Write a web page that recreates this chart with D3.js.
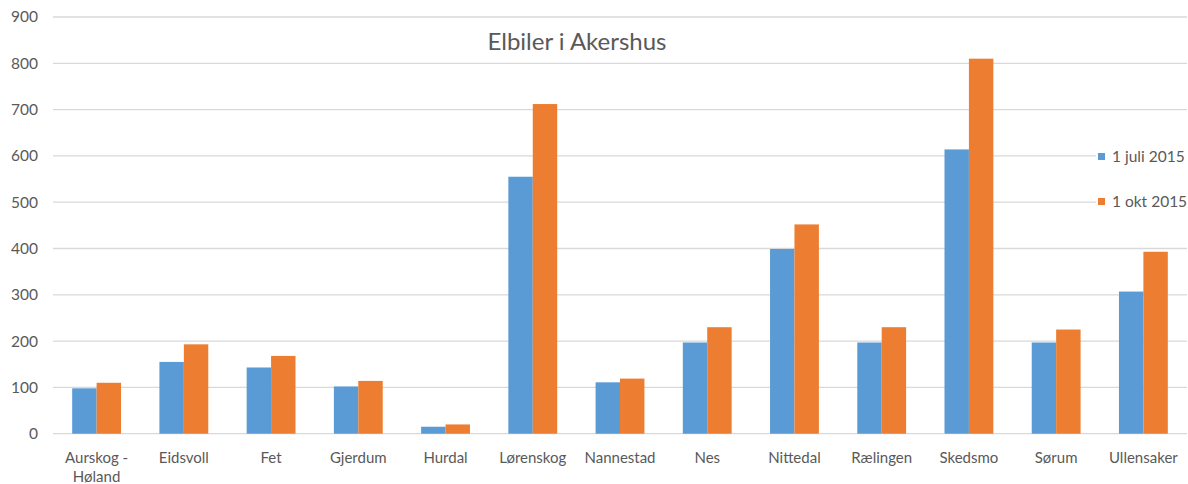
<!DOCTYPE html>
<html>
<head>
<meta charset="utf-8">
<script src="https://cdn.jsdelivr.net/npm/d3@7"></script>
<style>
	body { margin: 0; background: #fff; }
	text { font-family: Lato, "Open Sans", sans-serif; fill: #595959; }
</style>
</head>
<body>
<div id="chart"></div>
<script>
"use strict";

var kommuner = ["Aurskog - Høland", "Eidsvoll", "Fet", "Gjerdum", "Hurdal", "Lørenskog",
	"Nannestad", "Nes", "Nittedal", "Rælingen", "Skedsmo", "Sørum", "Ullensaker"];
var juli2015 = [98, 155, 143, 102, 15, 555, 111, 197, 399, 197, 614, 197, 307];
var okt2015 = [110, 193, 168, 114, 20, 712, 119, 230, 452, 230, 810, 225, 393];
var seriesNames = ["1 juli 2015", "1 okt 2015"];
var yTicks = [0, 100, 200, 300, 400, 500, 600, 700, 800, 900];

var colors = ["#5B9BD5", "#ED7D31"];

var svg = d3.select("#chart").append("svg")
	.attr("width", 1188).attr("height", 484);

var x0 = d3.scaleBand().domain(kommuner).range([53, 1187])
	.paddingInner(0.44).paddingOuter(0.22);
var x1 = d3.scaleBand().domain([0, 1]).range([0, x0.bandwidth()]);
var y = d3.scaleLinear().domain([0, 900]).range([433.7, 17]);

// gridlines
svg.append("g")
	.selectAll("line")
	.data(yTicks)
	.enter().append("line")
	.attr("x1", 53).attr("x2", 1187)
	.attr("y1", function(d) { return y(d); })
	.attr("y2", function(d) { return y(d); })
	.attr("stroke", "#d9d9d9")
	.attr("stroke-width", 1.3);

// y axis labels
var yAxis = svg.append("g")
	.attr("transform", "translate(38,0)")
	.call(d3.axisLeft(y).tickValues(yTicks).tickSize(0).tickPadding(0));
yAxis.select(".domain").remove();
yAxis.selectAll("text")
	.style("font-size", "15.5px")
	.attr("fill", "#595959")
	.style("font-family", "Lato, 'Open Sans', sans-serif");

// bars
var groups = svg.append("g").selectAll("g")
	.data(kommuner)
	.enter().append("g")
	.attr("transform", function(d) { return "translate(" + x0(d) + ",0)"; });

groups.selectAll("rect")
	.data(function(d, i) { return [juli2015[i], okt2015[i]]; })
	.enter().append("rect")
	.attr("x", function(d, j) { return x1(j); })
	.attr("width", x1.bandwidth())
	.attr("y", function(d) { return y(d); })
	.attr("height", function(d) { return y(0) - y(d); })
	.attr("fill", function(d, j) { return colors[j]; });

// x labels
var xl = svg.append("g").selectAll("text")
	.data(kommuner)
	.enter().append("text")
	.attr("x", function(d) { return x0(d) + x0.bandwidth() / 2; })
	.attr("y", 463)
	.attr("text-anchor", "middle")
	.style("font-size", "15px");

xl.each(function(d) {
	var t = d3.select(this);
	if (d.indexOf(" - ") > 0) {
		var parts = d.split(" - ");
		t.append("tspan").attr("x", t.attr("x")).text(parts[0] + " -");
		t.append("tspan").attr("x", t.attr("x")).attr("dy", 19).text(parts[1]);
	} else {
		t.text(d);
	}
});

// title
svg.append("text")
	.attr("x", 577).attr("y", 50)
	.attr("text-anchor", "middle")
	.style("font-size", "24px")
	.text("Elbiler i Akershus");

// legend
var legend = svg.append("g");
legend.append("rect")
	.attr("x", 1096).attr("y", 140)
	.attr("width", 92).attr("height", 75)
	.attr("fill", "#fff");

var items = legend.selectAll("g.item")
	.data(seriesNames)
	.enter().append("g")
	.attr("class", "item")
	.attr("transform", function(d, i) { return "translate(1098," + (153 + i * 45) + ")"; });

items.append("rect")
	.attr("width", 7).attr("height", 7)
	.attr("fill", function(d, i) { return colors[i]; });

items.append("text")
	.attr("x", 14).attr("y", 9)
	.style("font-size", "15.5px")
	.text(function(d) { return d; });
</script>
</body>
</html>
